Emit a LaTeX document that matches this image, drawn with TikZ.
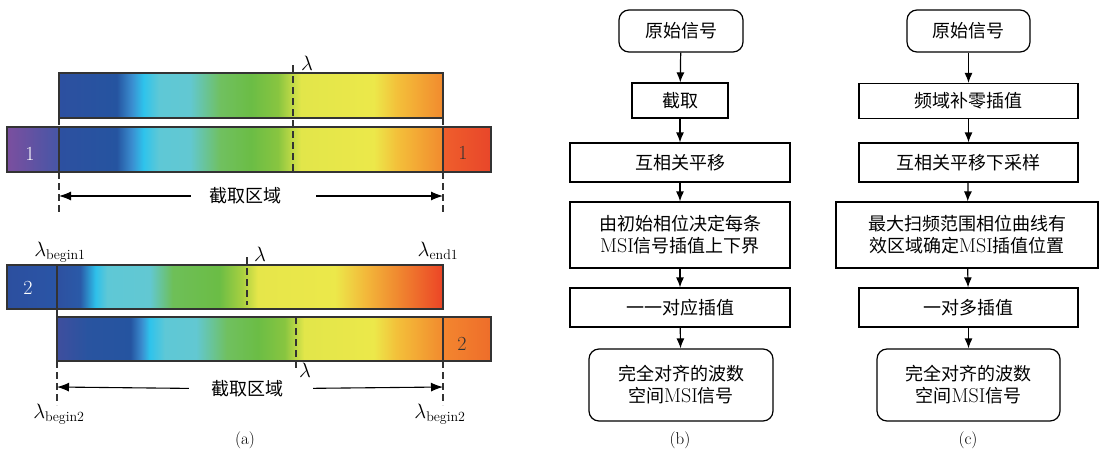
\documentclass[tikz,border=0pt]{standalone}
\usepackage{fontspec}
\newfontfamily\cjk[Scale=0.9]{Noto Sans CJK SC}
\usetikzlibrary{arrows.meta}
\newcommand\zh[1]{{\cjk #1}}
\pgfdeclarehorizontalshading{specA}{100bp}{%
rgb(0bp)=(0.176,0.314,0.627); rgb(25bp)=(0.176,0.314,0.627);
rgb(32.5bp)=(0.145,0.329,0.627); rgb(34.5bp)=(0.227,0.557,0.816);
rgb(36bp)=(0.180,0.765,0.925); rgb(38bp)=(0.369,0.784,0.839);
rgb(42bp)=(0.384,0.784,0.824); rgb(46bp)=(0.439,0.753,0.376);
rgb(50bp)=(0.420,0.741,0.271); rgb(53.5bp)=(0.533,0.773,0.251);
rgb(56.5bp)=(0.886,0.902,0.290); rgb(66bp)=(0.925,0.910,0.290);
rgb(69bp)=(0.953,0.753,0.227); rgb(75bp)=(0.949,0.541,0.180);
rgb(100bp)=(0.949,0.541,0.180)}
\pgfdeclarehorizontalshading{specC}{100bp}{%
rgb(0bp)=(0.247,0.306,0.620); rgb(25bp)=(0.247,0.306,0.620);
rgb(29bp)=(0.160,0.330,0.627);
rgb(34.5bp)=(0.145,0.329,0.627); rgb(36bp)=(0.227,0.557,0.816);
rgb(37bp)=(0.180,0.765,0.925); rgb(39bp)=(0.369,0.784,0.839);
rgb(43bp)=(0.384,0.784,0.824); rgb(47bp)=(0.439,0.753,0.376);
rgb(51bp)=(0.420,0.741,0.271); rgb(54.5bp)=(0.533,0.773,0.251);
rgb(57bp)=(0.886,0.902,0.290); rgb(66bp)=(0.925,0.910,0.290);
rgb(69bp)=(0.953,0.753,0.227); rgb(75bp)=(0.949,0.541,0.180);
rgb(100bp)=(0.949,0.541,0.180)}
\pgfdeclarehorizontalshading{specB}{100bp}{%
rgb(0bp)=(0.180,0.314,0.627); rgb(25bp)=(0.180,0.314,0.627);
rgb(28bp)=(0.165,0.353,0.659); rgb(30bp)=(0.180,0.753,0.918);
rgb(31.5bp)=(0.369,0.784,0.839); rgb(37bp)=(0.384,0.784,0.824);
rgb(40bp)=(0.431,0.749,0.345); rgb(46bp)=(0.420,0.741,0.271);
rgb(49bp)=(0.659,0.816,0.251); rgb(51bp)=(0.902,0.902,0.290);
rgb(61bp)=(0.925,0.910,0.290); rgb(65bp)=(0.953,0.722,0.227);
rgb(69bp)=(0.941,0.541,0.188); rgb(75bp)=(0.925,0.267,0.149);
rgb(100bp)=(0.925,0.267,0.149)}
\definecolor{edge}{HTML}{333333}
\begin{document}
\begin{tikzpicture}[x=1pt,y=-1pt,
  bar/.style={draw=edge,line width=1.4pt},
  endbox/.style={draw=edge,line width=2.6pt},
  dsh/.style={draw=edge,line width=1.1pt,dash pattern=on 7pt off 4pt},
  num/.style={font=\fontsize{20}{22}\selectfont,inner sep=0pt},
  lam/.style={font=\fontsize{20}{22}\selectfont,inner sep=0pt,anchor=base},
  cuttxt/.style={font=\fontsize{20}{22}\selectfont,inner sep=0pt},
  arr/.style={draw=black,line width=1.1pt,-{Latex[length=12pt,width=9pt]}},
  fbox/.style={draw,line width=1.2pt,align=center,font=\fontsize{20}{22}\selectfont,inner sep=0pt},
  rbox/.style={fbox,rounded corners=10pt},
  farr/.style={line width=1.2pt,-{Latex[length=10pt,width=8pt]}},
  captxt/.style={font=\fontsize{17}{18}\selectfont,inner sep=0pt}]
\useasboundingbox (0,0) rectangle (1100,453);
% ---------- panel (a), row 1
\shade[shading=specA] (59,73) rectangle (443,118);
\draw[bar] (59,73) rectangle (443,118);
\shade[shading=specA] (59,127) rectangle (443,172);
\shade[left color={rgb,255:red,123;green,79;blue,159},right color={rgb,255:red,70;green,86;blue,166}] (7,127) rectangle (59,172);
\shade[left color={rgb,255:red,239;green,94;blue,44},right color={rgb,255:red,232;green,70;blue,42}] (443,127) rectangle (491,172);
\draw[endbox] (7,127) rectangle (491,172);
\draw[draw=edge,line width=1.4pt] (59,127) -- (59,172) (443,127) -- (443,172);
\node[num,text=white] (n1l) at (30,154) {1};
\node[num,text=edge] (n1r) at (463,153) {1};
\draw[dsh] (293,65) -- (293,172);
\node[lam] (lam1) at (307,70) {$\lambda$};
\draw[dsh] (59,118) -- (59,127) (59,172) -- (59,214);
\draw[dsh] (443,118) -- (443,127) (443,172) -- (443,214);
\coordinate (l1) at (59,196);
\coordinate (r1) at (443,196);
\node[cuttxt,inner xsep=18pt] (t1) at (245,196) {\zh{截取区域}};
\draw[arr] (t1) -- (l1);
\draw[arr,shorten <=17pt] (t1) -- (r1);
% ---------- panel (a), row 2
\shade[shading=specB] (57,265) rectangle (443,309);
\shade[left color={rgb,255:red,44;green,79;blue,159},right color={rgb,255:red,42;green,85;blue,166}] (7,265) rectangle (57,309);
\draw[bar] (7,265) rectangle (443,309);
\draw[endbox] (7,265) rectangle (57,309);
\node[num,text=white] (n2l) at (28,288) {2};
\draw[dsh] (247,257) -- (247,305);
\node[lam] (lam2) at (260,261) {$\lambda$};
\shade[shading=specC] (57,317) rectangle (443,361);
\shade[left color={rgb,255:red,243;green,134;blue,47},right color={rgb,255:red,238;green,109;blue,42}] (443,317) rectangle (491,361);
\draw[bar] (57,317) rectangle (443,361);
\draw[endbox] (443,317) rectangle (491,361);
\node[num,text=edge] (n2r) at (462,344) {2};
\draw[dsh] (296,317) -- (296,370);
\node[lam] (lam3) at (305,377) {$\lambda$};
\draw[dsh] (57,309) -- (57,317) (57,361) -- (57,405);
\draw[dsh] (443,361) -- (443,405);
\coordinate (l2) at (57,387);
\coordinate (r2) at (443,387);
\node[cuttxt,inner xsep=22pt] (t2) at (247,389) {\zh{截取区域}};
\draw[arr] (t2) -- (l2);
\draw[arr,shorten <=8pt] (t2) -- (r2);
\node[lam] (lb1) at (60,256) {$\lambda_{\mathrm{begin1}}$};
\node[lam] (le1) at (438,256) {$\lambda_{\mathrm{end1}}$};
\node[lam] (lb2) at (59,418) {$\lambda_{\mathrm{begin2}}$};
\node[lam] (lb3) at (440,418) {$\lambda_{\mathrm{begin2}}$};
\node[captxt] (capa) at (245,440) {(a)};
% ---------- panel (b)
\node[rbox,minimum width=124pt,minimum height=42pt] (b1) at (681,31) {\zh{原始信号}};
\node[fbox,minimum width=96pt,minimum height=35pt] (b2) at (680,100.5) {\zh{截取}};
\node[fbox,minimum width=220pt,minimum height=39pt] (b3) at (680,162.5) {\zh{互相关平移}};
\node[fbox,minimum width=220pt,minimum height=66pt] (b4) at (680,235) {\zh{由初始相位决定每条}\\MSI\zh{信号插值上下界}};
\node[fbox,minimum width=220pt,minimum height=39pt] (b5) at (680,307.5) {\zh{一一对应插值}};
\node[rbox,minimum width=184pt,minimum height=72pt] (b6) at (681,385) {\zh{完全对齐的波数}\\\zh{空间}MSI\zh{信号}};
\draw[farr] (b1) -- (b2);
\draw[farr] (b2) -- (b3);
\draw[farr] (b3) -- (b4);
\draw[farr] (b4) -- (b5);
\draw[farr] (b5) -- (b6);
\node[captxt] (capb) at (680,440) {(b)};
% ---------- panel (c)
\node[rbox,minimum width=123pt,minimum height=42pt] (c1) at (968.5,31) {\zh{原始信号}};
\node[fbox,minimum width=219pt,minimum height=35pt] (c2) at (968.5,101) {\zh{频域补零插值}};
\node[fbox,minimum width=219pt,minimum height=39pt] (c3) at (968.5,162.5) {\zh{互相关平移下采样}};
\node[fbox,minimum width=262pt,minimum height=66pt] (c4) at (967,235) {\zh{最大扫频范围相位曲线有}\\\zh{效区域确定}MSI\zh{插值位置}};
\node[fbox,minimum width=219pt,minimum height=39pt] (c5) at (968.5,307.5) {\zh{一对多插值}};
\node[rbox,minimum width=183pt,minimum height=72pt] (c6) at (968.5,385) {\zh{完全对齐的波数}\\\zh{空间}MSI\zh{信号}};
\draw[farr] (c1) -- (c2);
\draw[farr] (c2) -- (c3);
\draw[farr] (c3) -- (c4);
\draw[farr] (c4) -- (c5);
\draw[farr] (c5) -- (c6);
\node[captxt] (capc) at (968,440) {(c)};
\end{tikzpicture}
\end{document}
